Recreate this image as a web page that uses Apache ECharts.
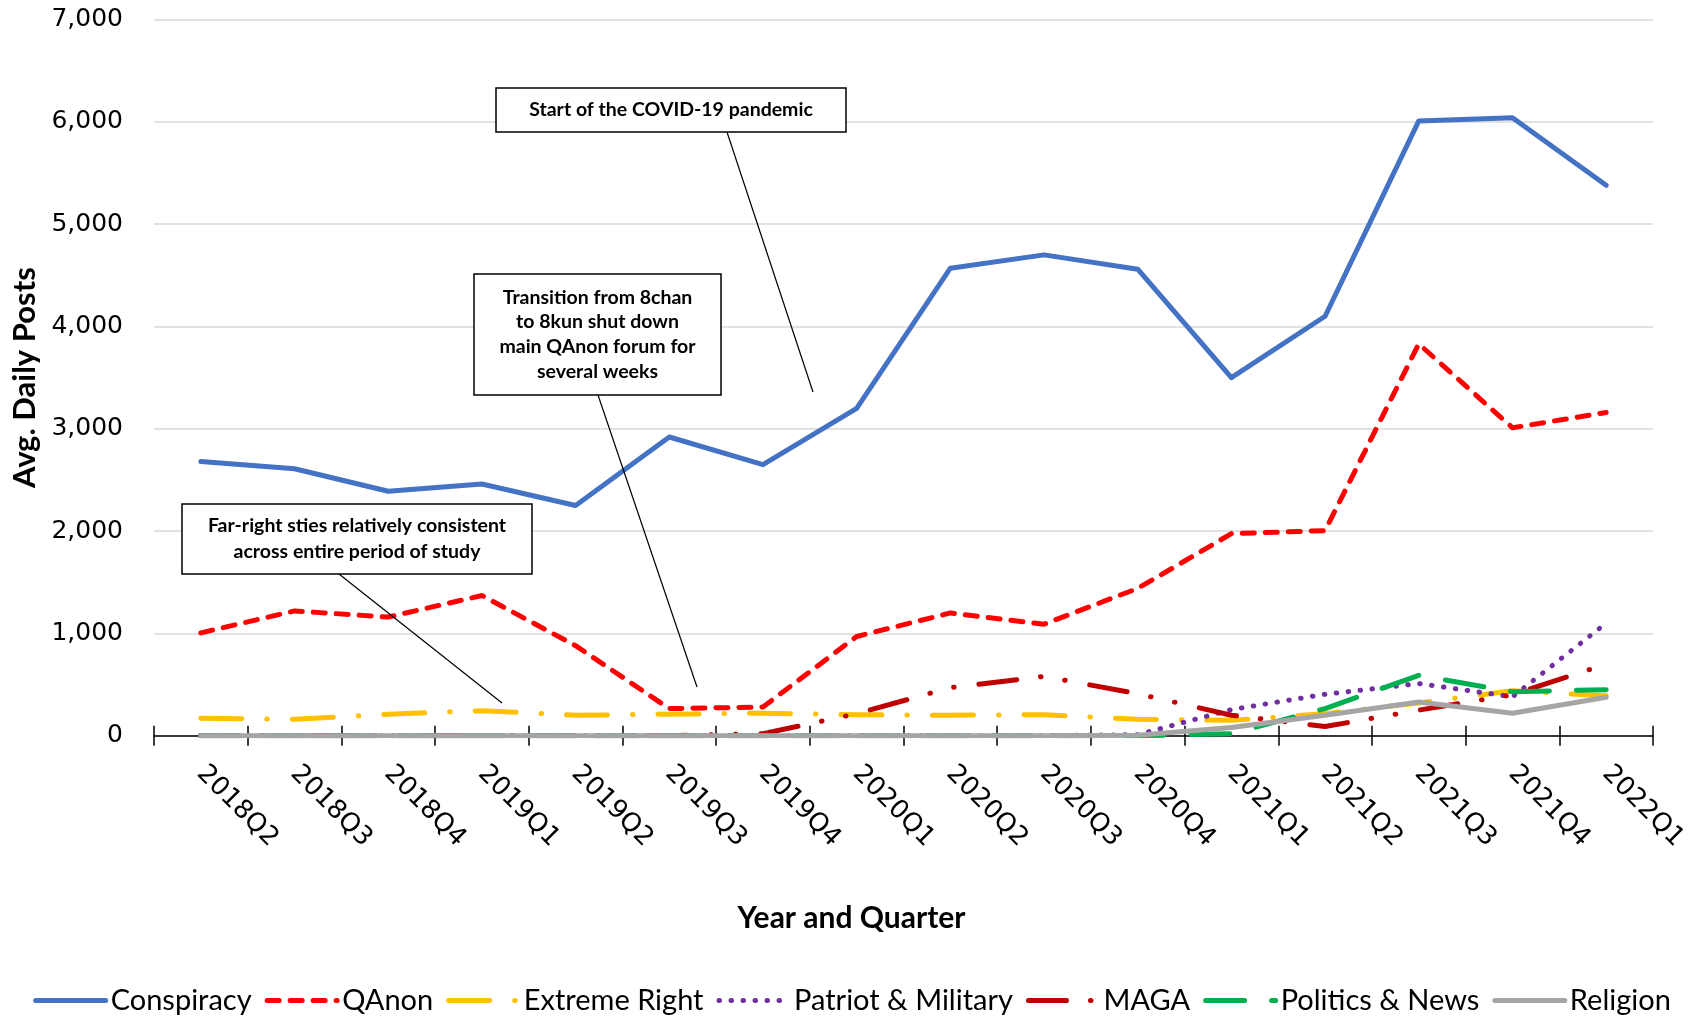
<!DOCTYPE html>
<html>
<head>
<meta charset="utf-8">
<script src="https://cdn.jsdelivr.net/npm/echarts@6/dist/echarts.min.js"></script>
<style>
html,body{margin:0;padding:0;background:#fff;}
#main{width:1704px;height:1017px;}
</style>
</head>
<body>
<div id="main"></div>
<script>
const categories = ['2018Q2','2018Q3','2018Q4','2019Q1','2019Q2','2019Q3','2019Q4','2020Q1','2020Q2','2020Q3','2020Q4','2021Q1','2021Q2','2021Q3','2021Q4','2022Q1'];
const conspiracy   = [2680,2610,2390,2460,2250,2920,2650,3200,4570,4700,4560,3500,4100,6010,6040,5380];
const qanon        = [1005,1220,1160,1370,880,265,280,970,1200,1090,1440,1975,2005,3830,3010,3160];
const extremeRight = [170,160,210,245,200,210,220,205,200,205,160,150,215,320,440,390];
const patriot      = [0,0,0,0,0,0,0,0,0,0,10,255,405,510,380,1100];
const maga         = [0,0,0,0,0,0,20,215,470,580,410,200,90,250,400,700];
const politics     = [0,0,0,0,0,0,0,0,0,0,0,20,265,590,430,450];
const religion     = [0,0,0,0,0,0,0,0,0,0,5,80,200,330,220,375];
const yTicks = [0,1000,2000,3000,4000,5000,6000,7000];

const seriesNames = ['Conspiracy','QAnon','Extreme Right','Patriot & Military','MAGA','Politics & News','Religion'];
const seriesData = [conspiracy,qanon,extremeRight,patriot,maga,politics,religion];
const seriesColors = ['#4472C4','#FF0000','#FFC000','#7030A0','#C00000','#00B050','#A5A5A5'];
const seriesDash = ['solid',[12,11],[41,25,0.5,25],[0.5,11.5],[38,24,0.5,24,0.5,25],[39,27],'solid'];

const chart = echarts.init(document.getElementById('main'), null, {renderer:'canvas'});
const CAL = 'Lato, "Open Sans", sans-serif';
const VER = '"DejaVu Sans", Verdana, sans-serif';

const series = seriesNames.map((n,i)=>({
  name:n, type:'line', data:seriesData[i], xAxisIndex:0, yAxisIndex:0,
  symbol:'none', smooth:false,
  lineStyle:{color:seriesColors[i], width:5, type:seriesDash[i], cap:'round', join:'round'},
  itemStyle:{color:seriesColors[i]},
  emphasis:{disabled:true},
  z: 2+i
}));

function box(x,y,w,h,lines,lh){
  const els=[{type:'rect',shape:{x:x,y:y,width:w,height:h},style:{fill:'#fff',stroke:'#000',lineWidth:1.5},z:100}];
  const cy=y+h/2;
  lines.forEach((t,k)=>{
    els.push({type:'text',x:x+w/2,y:cy+(k-(lines.length-1)/2)*lh,z:101,
      style:{text:t,font:'bold 19.5px '+CAL,fill:'#000',align:'center',verticalAlign:'middle'}});
  });
  return els;
}
function conn(x1,y1,x2,y2){
  return {type:'line',shape:{x1:x1,y1:y1,x2:x2,y2:y2},style:{stroke:'#000',lineWidth:1.2},z:99};
}

const graphics = [].concat(
  [conn(727,132,813,392), conn(598,395,697,687), conn(339,574,502,703)],
  box(496,88,350,44,['Start of the COVID-19 pandemic'],25),
  box(474,274,247,121,['Transition from 8chan','to 8kun shut down','main QAnon forum for','several weeks'],24.8),
  box(182,504,350,70,['Far-right sties relatively consistent','across entire period of study'],26)
);

chart.setOption({
  animation:false,
  backgroundColor:'#fff',
  grid:{left:154,right:51,top:19.6,bottom:281.3,containLabel:false},
  legend:{
    data:seriesNames, bottom:-3, left:'center',
    itemWidth:70, itemHeight:14, itemGap:13,
    itemStyle:{opacity:0},
    lineStyle:{width:5, cap:'round'},
    textStyle:{fontFamily:CAL, fontSize:29, color:'#000'},
    selectedMode:false
  },
  xAxis:[{
    type:'category', data:categories, boundaryGap:true, position:'bottom',
    name:'Year and Quarter', nameLocation:'middle', nameGap:168,
    nameTextStyle:{fontFamily:CAL, fontWeight:'bold', fontSize:30, color:'#000', padding:[0,104,0,0]},
    axisLine:{show:true, lineStyle:{color:'#000', width:1.5}},
    axisTick:{show:true, inside:false, length:10, lineStyle:{color:'#000', width:1.5}},
    axisLabel:{rotate:-45, fontFamily:VER, fontSize:26, color:'#000', margin:34},
    splitLine:{show:false}
  },{
    type:'category', data:categories, boundaryGap:true, position:'bottom',
    axisLine:{show:false},
    axisTick:{show:true, inside:true, length:10, lineStyle:{color:'#000', width:1.5}},
    axisLabel:{show:false}, splitLine:{show:false}
  }],
  yAxis:{
    type:'value', min:yTicks[0], max:yTicks[yTicks.length-1], interval:1000,
    name:'Avg. Daily Posts', nameLocation:'middle', nameGap:114,
    nameTextStyle:{fontFamily:CAL, fontWeight:'bold', fontSize:31, color:'#000'},
    axisLine:{show:false}, axisTick:{show:false},
    axisLabel:{fontFamily:VER, fontSize:25, color:'#000', margin:31,
      formatter:v=>v.toLocaleString('en-US')},
    splitLine:{show:true, lineStyle:{color:'#D9D9D9', width:1.5}}
  },
  series:series,
  graphic:graphics
});
</script>
</body>
</html>
